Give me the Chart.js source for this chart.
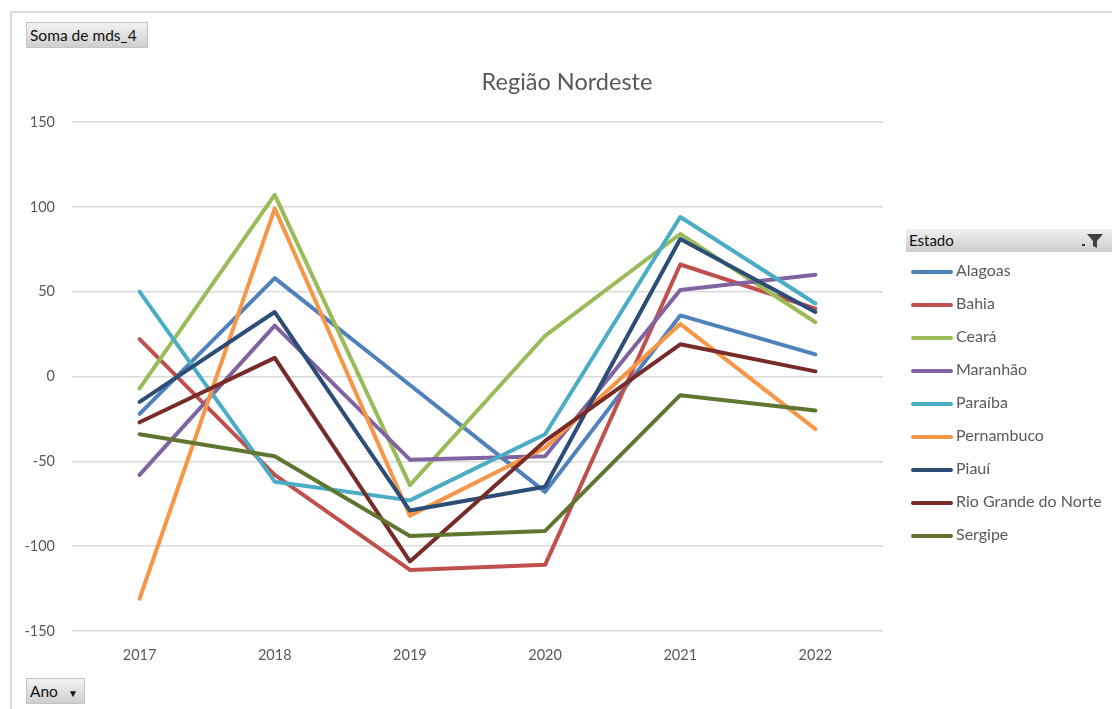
<!DOCTYPE html>
<html>
<head>
<meta charset="utf-8">
<script src="https://cdn.jsdelivr.net/npm/chart.js@4/dist/chart.umd.min.js"></script>
<style>
  html, body { margin: 0; padding: 0; background: #fff; }
  body { width: 1112px; height: 709px; position: relative; overflow: hidden;
         font-family: Lato, "Open Sans", sans-serif; }
  #frame { position: absolute; left: 10px; top: 11px; width: 1110px; height: 710px;
           border-left: 2px solid #d9d9d9; border-top: 2px solid #d9d9d9; box-sizing: border-box; }
  #chart { position: absolute; left: 0; top: 0; }
  .btn { position: absolute; box-sizing: border-box; height: 26px;
         background: linear-gradient(#f2f2f2, #cfcfcf); border: 1px solid #c4c4c4;
         font-size: 15.5px; line-height: 24px; color: #111; padding-left: 3px; }
  #title { position: absolute; left: 0; width: 1134px; top: 67px; text-align: center;
           font-size: 23.5px; color: #595959; }
  #legendHead { position: absolute; left: 906px; top: 229px; width: 206px; height: 23px;
                background: linear-gradient(#f0f0f0, #cdcdcd); font-size: 15px; line-height: 23px;
                color: #111; padding-left: 3px; box-sizing: border-box; }
  #legendHead svg { position: absolute; right: 8px; top: 4px; }
  #legend { position: absolute; left: 911px; top: 255px; }
  .item { position: absolute; left: 0; height: 33px; white-space: nowrap; }
  .item .swatch { position: absolute; left: 0; width: 42px; height: 4px; border-radius: 2px; }
  .item .txt { position: absolute; left: 45px; font-size: 16px; color: #595959; }
</style>
</head>
<body>
<div id="frame"></div>
<canvas id="chart" width="1112" height="709"></canvas>
<div id="title">Região Nordeste</div>
<div class="btn" style="left:26px; top:22px; width:122px;">Soma de mds_4</div>
<div class="btn" style="left:26px; top:678px; width:59px;">Ano <span style="font-size:10px; margin-left:6px;">&#9660;</span></div>
<div id="legendHead">Estado
  <svg width="22" height="16" viewBox="0 0 22 16">
    <rect x="0" y="11" width="3" height="2" fill="#333"/>
    <path d="M5 1 H21 L15 8 V15 L11 13 V8 Z" fill="#404040"/>
  </svg>
</div>
<div id="legend"></div>
<script>
// Anos (eixo X)
const anos = ['2017', '2018', '2019', '2020', '2021', '2022'];

// Soma de mds_4 por estado
const alagoas          = [-22,  58,   -5,  -68, 36,  13];
const bahia            = [ 22, -58, -114, -111, 66,  40];
const ceara            = [ -7, 107,  -64,   24, 84,  32];
const maranhao         = [-58,  30,  -49,  -47, 51,  60];
const paraiba          = [ 50, -62,  -73,  -34, 94,  43];
const pernambuco       = [-131, 99,  -82,  -42, 31, -31];
const piaui            = [-15,  38,  -79,  -65, 81,  38];
const rioGrandeDoNorte = [-27,  11, -109,  -38, 19,   3];
const sergipe          = [-34, -47,  -94,  -91, -11, -20];

const estados = ['Alagoas', 'Bahia', 'Ceará', 'Maranhão', 'Paraíba', 'Pernambuco', 'Piauí', 'Rio Grande do Norte', 'Sergipe'];
const valores = [alagoas, bahia, ceara, maranhao, paraiba, pernambuco, piaui, rioGrandeDoNorte, sergipe];
const cores = ['#4F81BD', '#C0504D', '#9BBB59', '#8064A2', '#4BACC6', '#F79646', '#2C4D75', '#772C2A', '#5F7530'];

// Eixo Y
const yMin = -150, yMax = 150, yPasso = 50;

const datasets = estados.map((nome, i) => ({
  label: nome,
  data: valores[i],
  borderColor: cores[i],
  backgroundColor: cores[i],
  borderWidth: 4,
  borderJoinStyle: 'round',
  borderCapStyle: 'round',
  pointRadius: 0,
  tension: 0,
  order: estados.length - i
}));

const fonte = { family: 'Lato, "Open Sans", sans-serif', size: 14.5 };

new Chart(document.getElementById('chart'), {
  type: 'line',
  data: { labels: anos, datasets },
  options: {
    responsive: false,
    animation: false,
    events: [],
    layout: { padding: { left: 10, right: 229, top: 122, bottom: 38 } },
    plugins: { legend: { display: false }, title: { display: false }, tooltip: { enabled: false } },
    scales: {
      x: {
        offset: true,
        grid: { display: false, drawTicks: false },
        border: { display: false },
        ticks: { color: '#595959', font: fonte, padding: 16 },
        afterFit: s => { s.height = 40; }
      },
      y: {
        min: yMin, max: yMax,
        grid: { color: '#d9d9d9', lineWidth: 1.5, drawTicks: false },
        border: { display: false },
        ticks: { stepSize: yPasso, color: '#595959', font: fonte, padding: 17 },
        afterFit: s => { s.width = 62; }
      }
    }
  }
});

// Legenda
const legend = document.getElementById('legend');
estados.forEach((nome, i) => {
  const it = document.createElement('div');
  it.className = 'item';
  it.style.top = (i * 33) + 'px';
  it.innerHTML = '<div class="swatch" style="top:15px;background:' + cores[i] + '"></div>' +
                 '<div class="txt" style="top:5px">' + nome + '</div>';
  legend.appendChild(it);
});
</script>
</body>
</html>
